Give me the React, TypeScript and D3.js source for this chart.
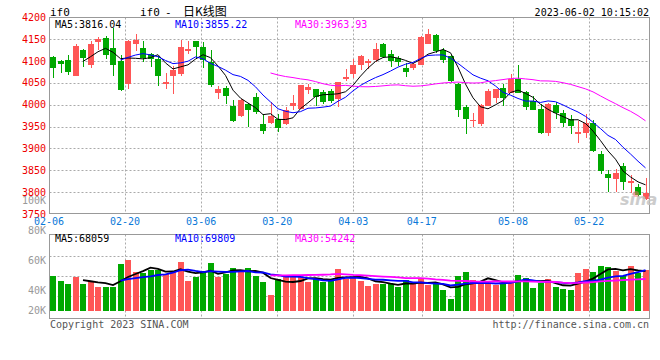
import React from 'react';
import * as d3 from 'd3';

// ---------- data ----------
const opens = [4109,4100,4102,4067,4125,4090,4144,4153,4130,4100,4048,4138,4130,4116,4104,4048,4066,4071,4122,4145,
  4132,4098,4027,4039,3998,3974,4001,4018,3956,3958,3968,3957,3998,3991,4033,4035,4029,4032,4014,4060,
  4071,4092,4096,4103,4138,4117,4106,4085,4085,4092,4140,4159,4125,4111,4048,3994,3962,3957,3997,4016,
  4039,4027,4060,4029,4009,3991,3936,3999,3981,3968,3932,3936,3958,3888,3841,3829,3860,3822,3812,3785];
const highs = [4112,4103,4115,4138,4128,4146,4154,4158,4176,4115,4148,4163,4146,4118,4112,4073,4088,4149,4145,4147,
  4144,4125,4042,4043,4010,4013,4005,4026,3978,4007,3978,3994,4022,4045,4047,4037,4033,4035,4053,4081,
  4104,4115,4105,4141,4141,4125,4111,4096,4096,4157,4174,4163,4129,4113,4050,3999,3981,4001,4035,4037,
  4048,4071,4090,4032,4019,4001,4004,4007,3987,3976,3963,3980,3966,3894,3850,3852,3867,3839,3818,3833];
const lows = [4062,4073,4069,4066,4086,4084,4125,4105,4066,4031,4035,4123,4099,4086,4043,4035,4025,4067,4117,4106,
  4085,4041,4014,4001,3961,3973,3949,3980,3933,3955,3938,3953,3989,3990,4024,3997,4001,4003,3994,4055,
  4061,4080,4083,4098,4106,4087,4089,4064,4080,4090,4138,4119,4096,4052,3971,3934,3948,3951,3997,4004,
  3997,4026,4026,3989,3987,3934,3929,3968,3949,3933,3913,3925,3892,3841,3801,3801,3804,3798,3790,3783];
const closes = [4085,4094,4076,4135,4106,4139,4151,4115,4090,4033,4146,4148,4108,4105,4066,4052,4079,4132,4128,4132,
  4102,4045,4037,4020,3963,4011,3989,3984,3940,3974,3946,3987,4004,4045,4041,4018,4007,4008,4052,4064,
  4092,4112,4100,4128,4109,4100,4097,4074,4093,4154,4161,4123,4102,4055,3989,3968,3966,3999,4032,4035,
  4016,4058,4027,3995,3989,3936,4001,3981,3958,3951,3938,3958,3894,3849,3833,3843,3823,3826,3793,3799];
const volumes = [60500,51300,46800,58100,46800,51300,41000,41000,41000,80400,87300,66700,65000,70700,70700,62700,68400,83900,51300,58100,
  68400,82100,58100,63900,73500,70700,73500,60500,49600,27400,54700,58100,58100,58100,49600,56500,49600,54700,71900,54700,
  58700,51300,42800,46800,46800,46800,41000,53600,46800,54700,44500,45600,35900,20600,59900,66700,53000,51300,48500,44500,
  48500,51300,61600,56500,39400,47300,54700,41000,37600,35900,65000,71900,66700,76900,75300,68400,60500,76900,65000,70100];

const dateTicks = ['02-06', '02-20', '03-06', '03-20', '04-03', '04-17', '05-08', '05-22'];
const dateTickSlots = [0, 10, 20, 30, 40, 49, 61, 71];
const priceTicks = [4200, 4150, 4100, 4050, 4000, 3950, 3900, 3850, 3800, 3750];
const volTicks = [100000, 80000, 60000, 40000, 20000];
const volTickLabels = ['100K', '80K', '60K', '40K', '20K'];
const maPeriods = [5, 10, 30];
const priceLegend = ['MA5:3816.04', 'MA10:3855.22', 'MA30:3963.93'];
const volLegend = ['MA5:68059', 'MA10:69809', 'MA30:54242'];
const titleParts = ['if0', '-', '日K线图'];
const stampText = '2023-06-02 10:15:02';

// ---------- styles / layout ----------
const W = 660, H = 360;
const BOX_L = 49.5, BOX_R = 649.5;
const MAIN_T = 17.5, MAIN_B = 213.5;
const VOL_T = 234.5, VOL_B = 318.5;
const UP = '#ff5656', DOWN = '#00a800';
const MA_COLORS = ['#000000', '#0000ff', '#ff00ff'];
const GRID = '#aaaaaa';
const MONO = '"DejaVu Sans Mono", monospace';
const LEGEND_X = [55, 175, 295];

function movingAvg(arr: number[], n: number): (number | null)[] {
  return arr.map((_, i) => (i < n - 1 ? null : (d3.mean(arr.slice(i - n + 1, i + 1)) as number)));
}

export default function App() {
  const N = closes.length;
  const x = d3.scaleBand<number>().domain(d3.range(N)).range([49.25, 649.25]).paddingInner(0);
  const cx = (i: number) => (x(i) as number) + x.bandwidth() / 2;
  const xGrid = d3.scaleLinear().domain([0, 79]).range([49, 650]);
  const yP = d3.scaleLinear().domain([3750, 4200]).range([214, 17.4]);
  const yV = d3.scaleLinear().domain([0, 100000]).range([311, 252.5]);
  const yVLabel = d3.scaleLinear().domain([20000, 100000]).range([320, 200]);
  const yVGrid = d3.scaleLinear().domain([0, 4]).range([235.7, 315.7]);

  const priceMA = maPeriods.map((p) => movingAvg(closes, p));
  const volMA = maPeriods.map((p) => movingAvg(volumes, p));

  const priceLine = d3.line<number | null>()
    .defined((d) => d != null)
    .x((_, i) => cx(i))
    .y((d) => yP(d as number));
  const volLine = d3.line<number | null>()
    .defined((d) => d != null)
    .x((_, i) => cx(i))
    .y((d) => yV(d as number));

  const bodyW = 6;
  const crisp = (v: number) => Math.round(v) + 0.5;

  return (
    <svg width={W} height={H} style={{ position: 'absolute', left: 0, top: 0, background: '#fff' }}
      fontFamily={MONO}>
      <rect x={0} y={0} width={W} height={H} fill="#fff" />
      {/* header */}
      <text x={50} y={16} fontSize={11} fill="#000">if0</text>
      <text x={140} y={16} fontSize={11} fill="#000">{titleParts[0]}</text>
      <text x={165} y={16} fontSize={11} fill="#000">{titleParts[1]}</text>
      <text x={183} y={16} fontSize={12} fill="#000" fontFamily='"Noto Sans CJK SC", sans-serif'>{titleParts[2]}</text>
      <text x={649} y={16} fontSize={10} fill="#000" textAnchor="end">{stampText}</text>

      {/* main grid */}
      {priceTicks.slice(1, -1).map((v) => (
        <line key={'pg' + v} x1={BOX_L} x2={BOX_R} y1={crisp(yP(v))} y2={crisp(yP(v))}
          stroke={GRID} strokeDasharray="2,2" />
      ))}
      {dateTickSlots.slice(1).map((s) => (
        <line key={'vg' + s} x1={crisp(xGrid(s))} x2={crisp(xGrid(s))} y1={MAIN_T} y2={MAIN_B}
          stroke={GRID} strokeDasharray="2,2" />
      ))}
      {/* volume grid */}
      {[1, 2, 3].map((k) => (
        <line key={'vhg' + k} x1={BOX_L} x2={BOX_R} y1={crisp(yVGrid(k))} y2={crisp(yVGrid(k))}
          stroke={GRID} strokeDasharray="2,2" />
      ))}
      {dateTickSlots.slice(1).map((s) => (
        <line key={'vvg' + s} x1={crisp(xGrid(s))} x2={crisp(xGrid(s))} y1={VOL_T} y2={VOL_B}
          stroke={GRID} strokeDasharray="2,2" />
      ))}

      {/* price axis labels */}
      {priceTicks.map((v) => (
        <text key={'pl' + v} x={46} y={yP(v)} dy="0.35em" fontSize={10} fill="#ee0000" textAnchor="end">{v}</text>
      ))}
      {/* date labels */}
      {dateTicks.map((t, k) => (
        <text key={'dl' + t} x={xGrid(dateTickSlots[k])} y={224.5} fontSize={10} fill="#0a78d8" textAnchor="middle">{t}</text>
      ))}
      {/* volume axis labels */}
      {volTicks.map((v, k) => (
        <text key={'vl' + v} x={46} y={Math.min(yVLabel(v), 310.7)} dy="0.35em" fontSize={10} fill="#999" textAnchor="end">{volTickLabels[k]}</text>
      ))}

      {/* candles */}
      <g shapeRendering="crispEdges">
        {closes.map((c, i) => {
          const o = opens[i];
          const col = c > o ? UP : DOWN;
          const bx = Math.round(cx(i) - bodyW / 2);
          const top = yP(Math.max(o, c));
          const bot = yP(Math.min(o, c));
          return (
            <g key={'c' + i}>
              <line x1={bx + 3.5} x2={bx + 3.5} y1={yP(highs[i])} y2={yP(lows[i])} stroke={col} />
              <rect x={bx} y={top} width={bodyW} height={Math.max(1, bot - top)} fill={col} />
            </g>
          );
        })}
        {volumes.map((v, i) => {
          const col = closes[i] > opens[i] ? UP : DOWN;
          const bx = Math.round(cx(i) - bodyW / 2);
          return <rect key={'v' + i} x={bx} y={yV(v)} width={bodyW} height={yV(0) - yV(v)} fill={col} />;
        })}
      </g>

      {/* MA lines */}
      {priceMA.map((m, k) => (
        <path key={'pma' + k} d={priceLine(m) || ''} fill="none" stroke={MA_COLORS[k]} strokeWidth={1} />
      ))}
      {volMA.map((m, k) => (
        <path key={'vma' + k} d={volLine(m) || ''} fill="none" stroke={MA_COLORS[k]} strokeWidth={1.8} />
      ))}

      {/* boxes */}
      <rect x={BOX_L} y={MAIN_T} width={BOX_R - BOX_L} height={MAIN_B - MAIN_T} fill="none" stroke="#999" />
      <rect x={BOX_L} y={VOL_T} width={BOX_R - BOX_L} height={VOL_B - VOL_T} fill="none" stroke="#999" />

      {/* legends */}
      {priceLegend.map((t, k) => (
        <text key={'plg' + k} x={LEGEND_X[k]} y={27.5} fontSize={10} fill={MA_COLORS[k]}>{t}</text>
      ))}
      {volLegend.map((t, k) => (
        <text key={'vlg' + k} x={LEGEND_X[k]} y={242} fontSize={10} fill={MA_COLORS[k]}>{t}</text>
      ))}

      {/* watermark */}
      <text x={620} y={205} fontSize={16} fontStyle="italic" fontWeight="bold" fill="#c4c4c4"
        fontFamily='"DejaVu Sans", sans-serif' opacity={0.85}>sina</text>
      <circle cx={636} cy={194} r={3} fill="#ff7070" opacity={0.5} />

      {/* footer */}
      <text x={50} y={327.5} fontSize={10} fill="#555">Copyright 2023 SINA.COM</text>
      <text x={649} y={327.5} fontSize={10} fill="#555" textAnchor="end">http://finance.sina.com.cn</text>
    </svg>
  );
}
